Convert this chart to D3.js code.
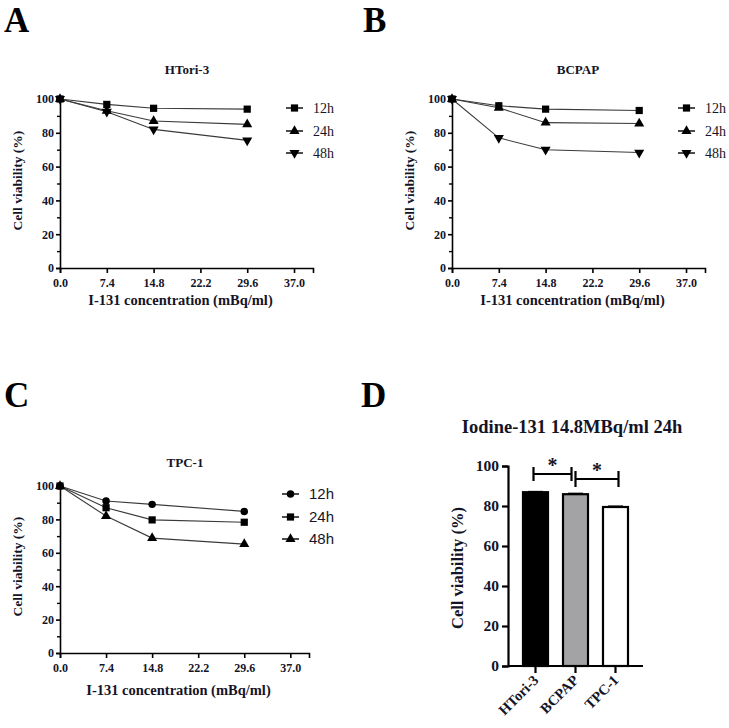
<!DOCTYPE html>
<html><head><meta charset="utf-8">
<script src="https://cdn.jsdelivr.net/npm/d3@7/dist/d3.min.js"></script>
<style>
body{margin:0;background:#fff}svg{display:block}
svg text{font-family:"Liberation Serif","Times New Roman","DejaVu Serif",serif;font-weight:bold}
svg text.sans{font-family:"Liberation Sans",Arial,"DejaVu Sans",sans-serif;font-weight:normal}
svg text.reg{font-weight:normal}
</style>
</head><body>
<svg id="c" width="729" height="728"></svg>
<script>
const doses = [0, 7.4, 14.8, 29.6];
const xTicks = [0, 7.4, 14.8, 22.2, 29.6, 37.0];
const yTicks = [0, 20, 40, 60, 80, 100];
const htori12 = [100, 96.8, 94.5, 94];
const htori24 = [100, 93, 87, 85];
const htori48 = [100, 92.5, 82, 75.5];
const bcpap12 = [100, 96, 94, 93.2];
const bcpap24 = [100, 94.8, 86, 85.5];
const bcpap48 = [100, 77, 70, 68.3];
const tpc12 = [100, 91, 89, 84.8];
const tpc24 = [100, 87, 79.7, 78.3];
const tpc48 = [100, 82, 68.8, 65.2];
const barCats = ["HTori-3", "BCPAP", "TPC-1"];
const barVals = [86.9, 85.9, 79.5];
const barErr = [0.3, 0.4, 0.4];

const svg = d3.select("#c");
const ink = "#141428";

function sym(type, size) {
  const t = {square: d3.symbolSquare, triangle: d3.symbolTriangle, circle: d3.symbolCircle, down: d3.symbolTriangle}[type];
  return d3.symbol().type(t).size(size)();
}

function styleAxis(a, fs) {
  a.attr("font-family", null);
  a.selectAll("path,line").attr("stroke", "#000").attr("stroke-width", 1.6);
  a.selectAll("text").attr("font-size", fs).attr("fill", ink);
}

function linePanel(o) {
  const g = svg.append("g");
  const x = d3.scaleLinear().domain([0, 40]).range([o.x0, o.x1]);
  const y = d3.scaleLinear().domain([0, 100]).range([o.y0, o.y1]);
  const ya = g.append("g").attr("transform", `translate(${o.x0},0)`)
    .call(d3.axisLeft(y).tickValues(yTicks).tickSize(4).tickPadding(2));
  g.append("g").attr("transform", `translate(${o.x0},0)`)
    .call(d3.axisLeft(y).tickValues([10,30,50,70,90]).tickSize(3).tickFormat(""))
    .call(a => a.select(".domain").remove())
    .selectAll("line").attr("stroke", "#000").attr("stroke-width", 1.4);
  const xa = g.append("g").attr("transform", `translate(0,${o.y0})`)
    .call(d3.axisBottom(x).tickValues(xTicks).tickFormat(d3.format(".1f")).tickSize(5).tickPadding(5));
  styleAxis(ya, 12); styleAxis(xa, 12);
  if (o.dotted) {
    g.append("line").attr("x1", o.x0 + 2).attr("x2", o.x1).attr("y1", o.y0).attr("y2", o.y0)
      .attr("stroke", "#fff").attr("stroke-width", 0.7).attr("stroke-dasharray", "1,2");
  }
  g.append("text").attr("x", (o.x0 + o.x1) / 2 - 6).attr("y", o.y0 + o.xly).attr("text-anchor", "middle")
    .attr("font-size", 14.5).attr("fill", ink).text("I-131 concentration (mBq/ml)");
  g.append("text").attr("transform", `translate(${o.x0 - 38},${(o.y0 + o.y1) / 2 - 3}) rotate(-90)`)
    .attr("text-anchor", "middle").attr("font-size", 13.5).attr("fill", ink).text("Cell viability (%)");
  g.append("text").attr("x", o.tx).attr("y", o.ty).attr("text-anchor", "middle")
    .attr("font-size", 13).attr("fill", ink).text(o.title);
  g.append("text").attr("x", o.lx).attr("y", o.ly).attr("font-size", 35).attr("fill", "#000").text(o.letter);
  const line = d3.line().x((d, i) => x(doses[i])).y(d => y(d));
  o.series.forEach(s => {
    g.append("path").datum(s.v).attr("d", line).attr("fill", "none").attr("stroke", "#3a3a3a").attr("stroke-width", 1.1);
  });
  o.series.forEach((s, k) => {
    const size = s.m === "square" ? 52 : 44;
    g.selectAll(null).data(s.v).join("path").attr("d", sym(s.m, size))
      .attr("transform", (d, i) => `translate(${x(doses[i])},${y(d)})${s.m === "down" ? " rotate(180)" : ""}`)
      .attr("fill", "#000");
    const ry = o.legY[k];
    g.append("line").attr("x1", o.legX).attr("x2", o.legX + 17).attr("y1", ry).attr("y2", ry).attr("stroke", "#000").attr("stroke-width", 1.4);
    g.append("path").attr("d", sym(s.m, size)).attr("transform", `translate(${o.legX + 8.5},${ry})${s.m === "down" ? " rotate(180)" : ""}`).attr("fill", "#000");
    g.append("text").attr("class", o.legClass).attr("x", o.legX + 27).attr("y", ry + 5).attr("font-size", o.legFs).attr("fill", ink).text(s.name);
  });
}

linePanel({x0: 60, x1: 313, y0: 268, y1: 99, title: "HTori-3", tx: 187, ty: 74, letter: "A", lx: 4, ly: 32, xly: 37,
  legX: 286, legY: [108, 131, 153], legClass: "reg", legFs: 14,
  series: [{name: "12h", v: htori12, m: "square"}, {name: "24h", v: htori24, m: "triangle"}, {name: "48h", v: htori48, m: "down"}]});
linePanel({x0: 452, x1: 705, y0: 268, y1: 99, title: "BCPAP", tx: 578, ty: 74, letter: "B", lx: 363, ly: 32, xly: 37,
  legX: 678, legY: [108, 131, 153], legClass: "reg", legFs: 14,
  series: [{name: "12h", v: bcpap12, m: "square"}, {name: "24h", v: bcpap24, m: "triangle"}, {name: "48h", v: bcpap48, m: "down"}]});
linePanel({x0: 60, x1: 309, y0: 653, y1: 486, title: "TPC-1", tx: 185, ty: 467, letter: "C", lx: 4, ly: 407, xly: 42,
  legX: 282, legY: [494, 517, 539], legClass: "sans", legFs: 15,
  series: [{name: "12h", v: tpc12, m: "circle"}, {name: "24h", v: tpc24, m: "square"}, {name: "48h", v: tpc48, m: "triangle"}]});

// Panel D
(function () {
  const g = svg.append("g");
  const x = d3.scaleBand().domain(barCats).range([508, 643]).paddingInner(0.375).paddingOuter(0.375);
  const y = d3.scaleLinear().domain([0, 100]).range([666, 466]);
  const fills = ["#000", "#a3a3a6", "#fff"];
  g.selectAll(null).data(barVals).join("rect")
    .attr("x", (d, i) => x(barCats[i])).attr("width", x.bandwidth())
    .attr("y", d => y(d)).attr("height", d => y(0) - y(d))
    .attr("fill", (d, i) => fills[i]).attr("stroke", "#000").attr("stroke-width", 2.2);
  g.selectAll(null).data(barVals).join("line")
    .attr("x1", (d, i) => x(barCats[i]) + x.bandwidth() * 0.2).attr("x2", (d, i) => x(barCats[i]) + x.bandwidth() * 0.8)
    .attr("y1", (d, i) => y(d + barErr[i])).attr("y2", (d, i) => y(d + barErr[i]))
    .attr("stroke", "#000").attr("stroke-width", 1.5);
  const ya = g.append("g").attr("transform", "translate(508,0)")
    .call(d3.axisLeft(y).tickValues(yTicks).tickSize(6).tickPadding(3));
  const xa = g.append("g").attr("transform", "translate(0,666)")
    .call(d3.axisBottom(x).tickSize(7).tickFormat(""));
  xa.select(".domain").attr("d", "M508,0H643");
  [ya, xa].forEach(a => {
    a.attr("font-family", null);
    a.selectAll("path,line").attr("stroke", "#000").attr("stroke-width", 2.2);
    a.selectAll("text").attr("font-size", 15.5).attr("fill", ink);
  });
  g.selectAll(null).data(barCats).join("text")
    .attr("transform", d => `translate(${x(d) + x.bandwidth() / 2 + 4},${681}) rotate(-45)`)
    .attr("text-anchor", "end").attr("font-size", 14.5).attr("fill", ink)
    .text(d => d);
  g.append("text").attr("transform", "translate(463,568) rotate(-90)").attr("text-anchor", "middle")
    .attr("font-size", 16.5).attr("fill", ink).text("Cell viability (%)");
  g.append("text").attr("x", 572).attr("y", 433).attr("text-anchor", "middle")
    .attr("font-size", 18.5).attr("fill", ink).text("Iodine-131 14.8MBq/ml 24h");
  g.append("text").attr("x", 361).attr("y", 407).attr("font-size", 35).attr("fill", "#000").text("D");
  const br = [[0, 1, 474, 7], [1, 2, 479, 8]];
  br.forEach(([a, b, yy, h]) => {
    const xs = a === 1 ? x(barCats[a]) + x.bandwidth() / 2 : x(barCats[a]) + x.bandwidth() / 2 - 2;
    const xe = a === 0 ? x(barCats[b]) + x.bandwidth() / 2 - 4 : x(barCats[b]) + x.bandwidth() / 2 + 3;
    g.append("path").attr("d", `M${xs},${yy - h}V${yy + h}M${xs},${yy}H${xe}M${xe},${yy - h}V${yy + h}`)
      .attr("fill", "none").attr("stroke", "#000").attr("stroke-width", 2.2);
    g.append("text").attr("x", (xs + xe) / 2).attr("y", yy - 2).attr("text-anchor", "middle")
      .attr("font-size", 20).attr("fill", ink).text("*");
  });
})();
</script>
</body></html>
